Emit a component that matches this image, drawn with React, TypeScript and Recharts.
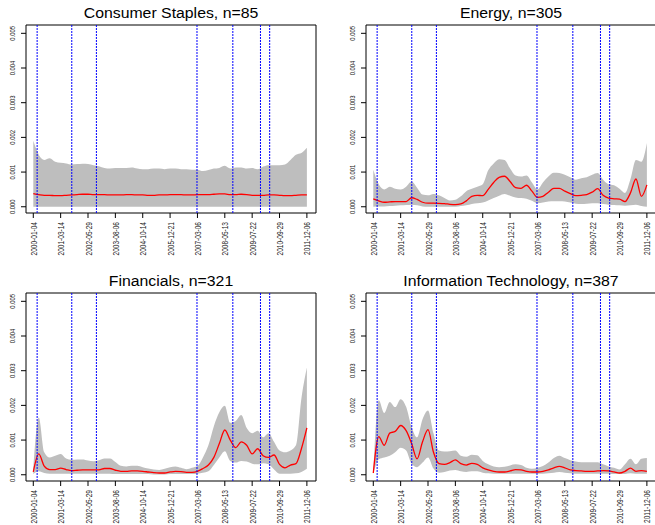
import { Area, ComposedChart, Line, ReferenceArea, ReferenceLine, XAxis, YAxis } from 'recharts'

// trading-day index of each sample (roughly every 60 sessions)
const X_INDEX = [
  0, 60, 120, 180, 240, 300, 360, 420, 480, 540,
  600, 660, 720, 780, 840, 900, 960, 1020, 1080, 1140,
  1200, 1260, 1320, 1380, 1440, 1500, 1560, 1620, 1680, 1740,
  1800, 1860, 1920, 1980, 2040, 2100, 2160, 2220, 2280, 2340,
  2400, 2460, 2520, 2580, 2640, 2700, 2760, 2820, 2880, 2940,
  3000,
]

const X_TICKS = [0, 300, 600, 900, 1200, 1500, 1800, 2100, 2400, 2700, 3000]
const X_TICK_LABELS = [
  '2000-01-04', '2001-03-14', '2002-05-29', '2003-08-06', '2004-10-14', '2005-12-21',
  '2007-03-06', '2008-05-13', '2009-07-22', '2010-09-29', '2011-12-06',
]

// values are in units of 1e-3
const Y_TICKS = [0, 1, 2, 3, 4, 5]
const Y_TICK_LABELS = ['0.000', '0.001', '0.002', '0.003', '0.004', '0.005']

// event dates (trading-day index)
const EVENTS = [42, 422, 692, 1795, 2188, 2491, 2592]

const CS_MEAN = [
  0.38, 0.35, 0.33, 0.33, 0.32, 0.32, 0.33, 0.34, 0.35, 0.36,
  0.36, 0.35, 0.35, 0.35, 0.34, 0.34, 0.34, 0.35, 0.35, 0.34,
  0.34, 0.33, 0.33, 0.34, 0.34, 0.35, 0.35, 0.35, 0.34, 0.34,
  0.35, 0.35, 0.35, 0.36, 0.37, 0.37, 0.35, 0.35, 0.36, 0.35,
  0.33, 0.33, 0.33, 0.34, 0.34, 0.33, 0.32, 0.32, 0.33, 0.34,
  0.34,
]
const CS_HI = [
  1.9, 1.5, 1.35, 1.4, 1.3, 1.27, 1.25, 1.22, 1.23, 1.24,
  1.23, 1.2, 1.17, 1.12, 1.1, 1.12, 1.12, 1.12, 1.13, 1.1,
  1.08, 1.08, 1.1, 1.1, 1.08, 1.1, 1.1, 1.08, 1.08, 1.07,
  1.07, 1.03, 1.06, 1.1, 1.12, 1.18, 1.1, 1.13, 1.13, 1.1,
  1.12, 1.08, 1.16, 1.2, 1.2, 1.2, 1.22, 1.35, 1.5, 1.55,
  1.7,
]
const CS_LO = [
  0, 0, 0, 0, 0, 0, 0, 0, 0, 0,
  0, 0, 0, 0, 0, 0, 0, 0, 0, 0,
  0, 0, 0, 0, 0, 0, 0, 0, 0, 0,
  0, 0, 0, 0, 0, 0, 0, 0, 0, 0,
  0, 0, 0, 0, 0, 0, 0, 0, 0, 0,
  0,
]

const EN_MEAN = [
  0.23, 0.17, 0.13, 0.14, 0.15, 0.15, 0.15, 0.26, 0.21, 0.13,
  0.105, 0.105, 0.1, 0.09, 0.07, 0.06, 0.08, 0.17, 0.3, 0.33,
  0.32, 0.5, 0.7, 0.85, 0.88, 0.73, 0.55, 0.53, 0.62, 0.45,
  0.27, 0.3, 0.42, 0.53, 0.53, 0.45, 0.38, 0.32, 0.33, 0.35,
  0.42, 0.52, 0.33, 0.25, 0.23, 0.22, 0.15, 0.4, 0.8, 0.3,
  0.63,
]
const EN_HI = [
  1.07, 0.65, 0.5, 0.58, 0.52, 0.5, 0.58, 0.73, 0.55, 0.35,
  0.33, 0.37, 0.33, 0.25, 0.18, 0.2, 0.3, 0.45, 0.52, 0.58,
  0.65, 1.05, 1.25, 1.37, 1.35, 1.1, 0.9, 0.87, 0.9, 0.7,
  0.5, 0.7, 0.87, 0.98, 0.97, 0.92, 0.85, 0.78, 0.82, 0.85,
  0.92, 0.97, 0.78, 0.65, 0.62, 0.52, 0.4, 0.8, 1.35, 1.3,
  1.84,
]
const EN_LO = [
  0, 0.01, 0.01, 0.02, 0.03, 0.04, 0.05, 0.06, 0.04, 0.01,
  0, 0, 0, 0, 0, 0, 0.02, 0.04, 0.08, 0.1,
  0.12, 0.18, 0.25, 0.32, 0.37, 0.32, 0.27, 0.25, 0.23, 0.17,
  0.1, 0.12, 0.15, 0.16, 0.16, 0.15, 0.12, 0.09, 0.08, 0.09,
  0.1, 0.1, 0.08, 0.06, 0.05, 0.04, 0.03, 0.04, 0.06, 0.02,
  0,
]

const FI_MEAN = [
  0.08, 0.6, 0.25, 0.15, 0.15, 0.19, 0.15, 0.12, 0.13, 0.14,
  0.14, 0.14, 0.14, 0.18, 0.18, 0.13, 0.1, 0.1, 0.11, 0.11,
  0.1, 0.08, 0.06, 0.05, 0.05, 0.08, 0.1, 0.09, 0.07, 0.07,
  0.1, 0.18, 0.28, 0.5, 0.9, 1.29, 1.0, 0.78, 0.95, 0.85,
  0.6, 0.75, 0.55, 0.5, 0.57, 0.3, 0.2, 0.28, 0.32, 0.75,
  1.35,
]
const FI_HI = [
  0.2, 1.65, 0.65, 0.5, 0.55, 0.6, 0.47, 0.43, 0.44, 0.44,
  0.41, 0.39, 0.42, 0.47, 0.47, 0.37, 0.26, 0.24, 0.26, 0.26,
  0.22, 0.18, 0.15, 0.14, 0.17, 0.22, 0.24, 0.2, 0.16, 0.2,
  0.25, 0.5, 0.85, 1.4, 1.8, 1.99, 1.5, 1.55, 1.72, 1.35,
  1.2, 1.27, 1.08, 1.2, 0.95, 0.7, 0.65, 0.7, 0.85, 2.2,
  3.09,
]
const FI_LO = [
  0.02, 0.1, 0.05, 0.03, 0.03, 0.03, 0.03, 0.03, 0.03, 0.03,
  0.03, 0.03, 0.03, 0.03, 0.03, 0.02, 0.02, 0.02, 0.02, 0.02,
  0.02, 0.02, 0.01, 0.01, 0.01, 0.02, 0.02, 0.02, 0.02, 0.02,
  0.03, 0.06, 0.1, 0.28, 0.5, 0.68, 0.4, 0.35, 0.4, 0.38,
  0.32, 0.3, 0.33, 0.3, 0.15, 0.03, 0.03, 0.03, 0.04, 0.08,
  0.17,
]

const IT_MEAN = [
  0.05, 1.1, 0.85, 1.2, 1.25, 1.42, 1.27, 0.9, 0.46, 0.95,
  1.3, 0.65, 0.32, 0.3, 0.35, 0.43, 0.32, 0.28, 0.33, 0.3,
  0.2, 0.14, 0.1, 0.08, 0.08, 0.11, 0.15, 0.14, 0.1, 0.08,
  0.08, 0.1, 0.14, 0.2, 0.24, 0.2, 0.14, 0.12, 0.11, 0.1,
  0.1, 0.11, 0.12, 0.11, 0.08, 0.05, 0.1, 0.19, 0.1, 0.12,
  0.1,
]
const IT_HI = [
  0.1, 2.15, 1.78, 2.1, 1.95, 2.18, 1.96, 1.38, 1.08, 1.6,
  1.85, 1.2, 0.7, 0.67, 0.68, 0.7, 0.55, 0.52, 0.58, 0.56,
  0.4, 0.3, 0.24, 0.22, 0.23, 0.27, 0.3, 0.28, 0.2, 0.17,
  0.2, 0.25, 0.35, 0.48, 0.55, 0.48, 0.42, 0.38, 0.36, 0.36,
  0.36, 0.36, 0.3, 0.24, 0.2, 0.15, 0.3, 0.46, 0.3, 0.46,
  0.48,
]
const IT_LO = [
  0.02, 0.45, 0.5, 0.55, 0.65, 0.78, 0.7, 0.32, 0.22, 0.35,
  0.5, 0.18, 0.06, 0.08, 0.12, 0.14, 0.1, 0.08, 0.1, 0.1,
  0.06, 0.04, 0.03, 0.03, 0.03, 0.03, 0.03, 0.03, 0.03, 0.03,
  0.03, 0.03, 0.04, 0.06, 0.08, 0.06, 0.04, 0.03, 0.03, 0.03,
  0.03, 0.03, 0.03, 0.03, 0.02, 0.02, 0.02, 0.04, 0.03, 0.03,
  0.03,
]

const FONT = '"Liberation Sans", Arial, Helvetica, sans-serif'
const PANEL_W = 340
const PANEL_H = 268

function XTick({ x, y, payload }: any) {
  const label = X_TICK_LABELS[X_TICKS.indexOf(payload.value)]
  return (
    <text
      transform={`translate(${x + 3.5},${y + 2}) rotate(-90) scale(0.8,1)`}
      textAnchor="end"
      fontSize={8.2}
      fontFamily={FONT}
      fill="#222"
    >
      {label}
    </text>
  )
}

function YTick({ x, y, payload }: any) {
  const label = Y_TICK_LABELS[Y_TICKS.indexOf(payload.value)]
  return (
    <text
      transform={`translate(${x - 4},${y}) rotate(-90) scale(0.78,1)`}
      textAnchor="middle"
      fontSize={7.5}
      fontFamily={FONT}
      fill="#222"
    >
      {label}
    </text>
  )
}

type PanelProps = {
  title: string
  mean: number[]
  lo: number[]
  hi: number[]
  left: number
  top: number
}

function Panel({ title, mean, lo, hi, left, top }: PanelProps) {
  const data = X_INDEX.map((x, i) => ({ x, mean: mean[i], band: [lo[i], hi[i]] }))

  return (
    <div style={{ position: 'absolute', left, top, width: PANEL_W, height: PANEL_H }}>
      <div
        style={{
          position: 'absolute',
          left: 0,
          top: 5,
          width: 342,
          textAlign: 'center',
          fontSize: 14,
          lineHeight: '16px',
          fontFamily: FONT,
          color: '#000',
          transform: 'scaleX(1.13)',
        }}
      >
        {title}
      </div>
      <ComposedChart width={PANEL_W} height={PANEL_H} data={data} margin={{ top: 25, right: 24, bottom: 0, left: 0 }}>
        <XAxis
          dataKey="x"
          type="number"
          domain={[-80, 3100]}
          ticks={X_TICKS}
          interval={0}
          allowDataOverflow
          axisLine={false}
          tickLine={{ stroke: '#000' }}
          tickSize={5}
          height={55}
          tick={XTick}
        />
        <YAxis
          type="number"
          domain={[-0.18, 5.24]}
          ticks={Y_TICKS}
          interval={0}
          allowDataOverflow
          axisLine={false}
          tickLine={{ stroke: '#000' }}
          tickSize={5}
          width={26}
          tick={YTick}
        />
        <Area
          dataKey="band"
          type="monotone"
          stroke="none"
          fill="#bebebe"
          fillOpacity={1}
          isAnimationActive={false}
        />
        <Line
          dataKey="mean"
          type="monotone"
          stroke="#ff0000"
          strokeWidth={1.3}
          dot={false}
          isAnimationActive={false}
        />
        {EVENTS.map((ev) => (
          <ReferenceLine key={ev} x={ev} stroke="#0000ff" strokeWidth={1} strokeDasharray="2 1" />
        ))}
        <ReferenceArea
          x1={-80}
          x2={3100}
          y1={-0.18}
          y2={5.24}
          fill="none"
          stroke="#000"
          strokeWidth={1}
          ifOverflow="visible"
        />
      </ComposedChart>
    </div>
  )
}

export default function App() {
  return (
    <div
      style={{
        position: 'absolute',
        left: 0,
        top: 0,
        width: 655,
        height: 525,
        overflow: 'hidden',
        background: '#fff',
      }}
    >
      <Panel title="Consumer Staples, n=85" mean={CS_MEAN} lo={CS_LO} hi={CS_HI} left={0} top={0} />
      <Panel title="Energy, n=305" mean={EN_MEAN} lo={EN_LO} hi={EN_HI} left={340} top={0} />
      <Panel title="Financials, n=321" mean={FI_MEAN} lo={FI_LO} hi={FI_HI} left={0} top={268} />
      <Panel title="Information Technology, n=387" mean={IT_MEAN} lo={IT_LO} hi={IT_HI} left={340} top={268} />
    </div>
  )
}
